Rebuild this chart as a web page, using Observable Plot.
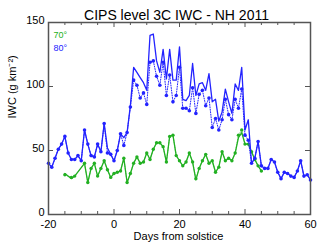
<!DOCTYPE html>
<html><head><meta charset="utf-8">
<script src="https://cdn.jsdelivr.net/npm/d3@7"></script>
<script src="https://cdn.jsdelivr.net/npm/@observablehq/plot@0.6"></script>
<style>body{margin:0;background:#fff} svg{display:block}</style>
</head><body><div id="chart"></div>
<script>
const days80 = [-20,-19,-18,-17,-16,-15,-14,-13,-12,-11,-10,-9,-8,-7,-6,-5,-4,-3,-2,-1,
  0,1,2,3,4,5,6,7,8,9,10,11,12,13,14,15,16,17,18,19,20,21,22,23,24,25,26,27,28,29,
  30,31,32,33,34,35,36,37,38,39,40,41,42,43,44,45,46,47,48,49,50,51,52,53,54,55,56,57,58,59,60];
const iwc80Solid = [40,37,44,51,55,61,48,43,43,46, 42,66,55,46,45,55,49,71,52,47,
  42,50,63,60,64,85,115,111,107,103, 97,140,141,120,111,129,106,129,105,105,
  131,90,89,93,118,93,102,103,97,110, 88,90,73,80,98,88,79,102,97,115,
  66,74,40,44,57,38,36,36,43,41, 33,28,33,32,30,29,34,42,30,31, 27];
const iwc80Dotted = [40,37,44,51,55,61,48,43,43,46, 42,66,55,46,45,55,49,71,48,47,
  42,50,63,54,64,84,105,101,91,95, 86,119,120,108,101,119,93,109,88,93,
  115,83,83,81,99,79,94,97,85,91, 68,75,66,74,90,78,74,90,83,98,
  62,58,40,44,57,38,36,36,43,41, 33,28,33,32,30,29,34,42,30,31, 27];
const days70 = [-15,-13,-12,-9,-8,-7,-6,-5,-4,-3,-2,-1,0,1,2,3,4,5,6,7,8,9,10,
  11,12,13,14,15,16,17,18,19,20,21,22,23,24,25,26,27,28,29,30,
  31,32,33,34,35,36,37,38,39,40,41,42,43,44,45];
const iwc70Solid = [32,28,30, 40,25,36,40,30,36,42,35,29,32,
  33,34,44,25,32,40,45,40,41,48, 43,51,56,56,53,41,61,62,46,42,
  38,41,48,41,27,36,42,47,40,42, 33,37,49,42,44,42,48,60,64,55, 55,49,43,38,34];
const iwc70Dotted = [31,29,30, 40,25,36,40,30,36,42,35,29,32,
  33,34,44,25,32,40,45,40,41,48, 43,51,56,56,53,41,61,62,46,42,
  38,41,48,41,28,36,42,47,40,42, 33,37,49,42,44,42,48,62,66,55, 55,49,43,38,34];
const xMajorTicks = [-20,0,20,40,60];
const xMinorTicks = [-15,-10,-5,5,10,15,25,30,35,45,50,55];
const yTicks = [0,50,100,150];
const title = "CIPS level 3C IWC - NH 2011";
const xLabel = "Days from solstice";
const yLabel = "IWC (g km⁻²)";
const legendLabels = ["70°","80°"];

const blue = "#2323ff", green = "#22b022", axisC = "#555";
const s80 = days80.map((d,i)=>({d, v: iwc80Solid[i]}));
const t80 = days80.map((d,i)=>({d, v: iwc80Dotted[i]}));
const s70 = days70.map((d,i)=>({d, v: iwc70Solid[i]}));
const t70 = days70.map((d,i)=>({d, v: iwc70Dotted[i]}));

const W=320, H=249, mt=22, mb=35, ml=48, mr=10;
const fh = H-mt-mb, fw = W-ml-mr;

const plot = Plot.plot({
  width: W, height: H, marginTop: mt, marginBottom: mb, marginLeft: ml, marginRight: mr,
  style: {fontFamily: "'Liberation Sans', Arial, sans-serif", fontSize: "11px", background: "#fff", color: "#000", overflow: "visible"},
  x: {domain: [-20,60], axis: null},
  y: {domain: [0,150], axis: null},
  marks: [
    Plot.line(t70, {x:"d", y:"v", stroke: green, strokeOpacity: 0.6, strokeWidth: 1, strokeDasharray: "1,1.5"}),
    Plot.line(s70, {x:"d", y:"v", stroke: green, strokeWidth: 1.3}),
    Plot.dot(t70, {x:"d", y:"v", r: 1.7, fill: green, stroke: "none"}),
    Plot.line(t80, {x:"d", y:"v", stroke: blue, strokeWidth: 1, strokeDasharray: "1,1.5"}),
    Plot.dot(t80, {x:"d", y:"v", r: 1.8, fill: blue, stroke: "none"}),
    Plot.line(s80, {x:"d", y:"v", stroke: blue, strokeWidth: 1.3}),
    Plot.frame({stroke: axisC, strokeWidth: 1.5}),
    Plot.tickX(xMajorTicks, {x: d=>d, stroke: axisC, insetTop: fh-5}),
    Plot.tickX(xMajorTicks, {x: d=>d, stroke: axisC, insetBottom: fh-5}),
    Plot.tickX(xMinorTicks, {x: d=>d, stroke: axisC, insetTop: fh-3}),
    Plot.tickX(xMinorTicks, {x: d=>d, stroke: axisC, insetBottom: fh-3}),
    Plot.tickY(yTicks, {y: d=>d, stroke: axisC, insetRight: fw-5}),
    Plot.tickY(yTicks, {y: d=>d, stroke: axisC, insetLeft: fw-5}),
    Plot.text(xMajorTicks, {x: d=>d, text: d=>String(d), frameAnchor: "bottom", dy: 13, fontSize: 11}),
    Plot.text(yTicks, {y: d=>d, text: d=>String(d), frameAnchor: "left", textAnchor: "end", dx: -4, dy: -2, fontSize: 11}),
    Plot.text([xLabel], {frameAnchor: "bottom", dy: 25, dx: -1, fontSize: 11}),
    Plot.text([yLabel], {frameAnchor: "left", rotate: -90, dx: -36, fontSize: 11}),
    Plot.text([title], {frameAnchor: "top", dy: -12, dx: -3, fontSize: 14}),
    Plot.text([legendLabels[0]], {frameAnchor: "top-left", textAnchor: "start", dx: 5, dy: 9, fontSize: 9, fill: green}),
    Plot.text([legendLabels[1]], {frameAnchor: "top-left", textAnchor: "start", dx: 5, dy: 22, fontSize: 9, fill: blue})
  ]
});
document.getElementById("chart").appendChild(plot);
</script>
</body></html>
